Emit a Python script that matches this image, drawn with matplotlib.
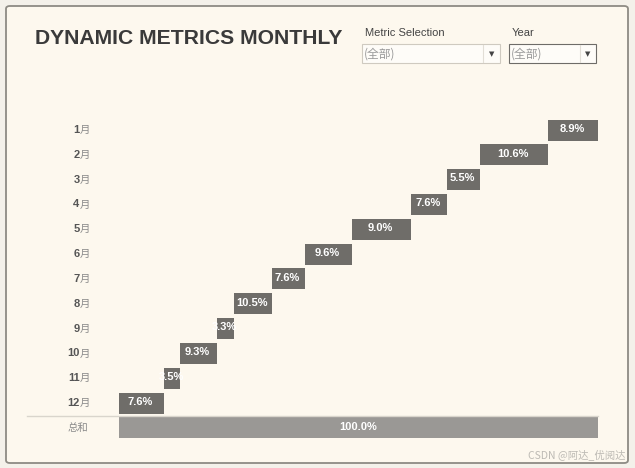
import matplotlib
matplotlib.use("Agg")
import matplotlib.pyplot as plt
import matplotlib.transforms as mtransforms
from matplotlib.patches import FancyBboxPatch, Rectangle
from matplotlib.lines import Line2D

# ---- data ----
months = ["1月", "2月", "3月", "4月", "5月", "6月", "7月", "8月", "9月", "10月", "11月", "12月"]
bar_widths = [10.4, 14.2, 6.9, 7.5, 12.3, 9.8, 6.9, 7.9, 3.6, 7.7, 3.4, 9.3]
bar_labels = ["8.9%", "10.6%", "5.5%", "7.6%", "9.0%", "9.6%", "7.6%", "10.5%", "3.3%", "9.3%", "3.5%", "7.6%"]
total_label_cat = "总和"
total_label = "100.0%"
title = "DYNAMIC METRICS MONTHLY"
filter_names = ["Metric Selection", "Year"]
filter_values = ["(全部)", "(全部)"]
watermark = "CSDN @阿达_优阅达"

W, H = 635, 468
OUT_BG = "#f4f1ea"
IN_BG = "#fdf8ee"
BAR = "#6f6d69"
TOTAL = "#9a9895"
LAT = ["Liberation Sans", "Noto Sans CJK SC", "DejaVu Sans"]
CJK = ["Noto Sans CJK SC", "DejaVu Sans"]

fig = plt.figure(figsize=(W / 100, H / 100), dpi=100)
fig.patch.set_facecolor(OUT_BG)

def fx(x):
    return x / W

def fy(y):
    return 1 - y / H

# panel with border
panel = FancyBboxPatch((fx(6), fy(463)), fx(622), 457 / H,
                       boxstyle="round,pad=0,rounding_size=0.006",
                       transform=fig.transFigure, facecolor=IN_BG,
                       edgecolor="#8e8b84", linewidth=1.3, zorder=-5)
fig.patches.append(panel)

# title
fig.text(fx(35), fy(38), title, fontsize=15.2, fontweight="bold", color="#3a3a3a",
         family=LAT, ha="left", va="center")

# filters
boxes = [(362, 500, 483, "#cfcac0"), (509, 596, 580, "#6e6c68")]
for (x0, x1, xd, ec), name, val in zip(boxes, filter_names, filter_values):
    fig.text(fx(x0 + 3), fy(33), name, fontsize=8, color="#444444", family=LAT,
             ha="left", va="center")
    r = Rectangle((fx(x0), fy(63)), fx(x1 - x0), 19 / H, transform=fig.transFigure,
                  facecolor="#fefcf8", edgecolor=ec, linewidth=0.8)
    fig.patches.append(r)
    fig.lines.append(Line2D([fx(xd), fx(xd)], [fy(62), fy(45)], transform=fig.transFigure,
                            color="#e2ded6", linewidth=0.8))
    fig.text(fx(x0 + 2), fy(54), val, fontsize=8.5, color="#9a9a9a", family=CJK,
             ha="left", va="center")
    fig.text(fx((xd + x1) / 2), fy(54), "▼", fontsize=5, color="#444444",
             family=["DejaVu Sans"], ha="center", va="center")

# main axes
row_top, row_step = 130, 24.83
n_rows = len(months) + 1
top_px = row_top - row_step / 2
bot_px = row_top + row_step * (n_rows - 1) + row_step / 2
ax = fig.add_axes([fx(119), fy(bot_px), fx(598) - fx(119), (bot_px - top_px) / H])
ax.set_facecolor("none")
ax.set_zorder(2)
for s in ax.spines.values():
    s.set_visible(False)
ax.set_xticks([])
ax.set_yticks([])

total = sum(bar_widths)
ax.set_xlim(0, total)
ax.set_ylim(n_rows - 0.5, -0.5)

bh = 21 / row_step
# cumulative from 12月 upward
starts = [0.0] * len(months)
acc = 0.0
for i in range(len(months) - 1, -1, -1):
    starts[i] = acc
    acc += bar_widths[i]

for i, (w, s, lab) in enumerate(zip(bar_widths, starts, bar_labels)):
    rects = ax.barh(i, w, left=s, height=bh, color=BAR, edgecolor="none")
    rect = rects[0]
    narrow = w < 5
    if narrow:
        # label too wide for the bar: leading digit is clipped, as in the original
        t = ax.text(s - 0.95, i - 0.05, lab, ha="left", va="center", color="white",
                    fontsize=8, fontweight="bold", family=LAT)
    else:
        t = ax.text(s + w / 2 - 0.2, i - 0.05, lab, ha="center", va="center", color="white",
                    fontsize=8, fontweight="bold", family=LAT)
    t.set_clip_path(rect)

ti = len(months)
trect = ax.barh(ti, total, left=0, height=bh, color=TOTAL, edgecolor="none")[0]
ax.text(total / 2, ti - 0.05, total_label, ha="center", va="center", color="white",
        fontsize=8, fontweight="bold", family=LAT)

# row labels
bt = mtransforms.blended_transform_factory(fig.transFigure, ax.transData)
for i, m in enumerate(months):
    num = m[:-1]
    ax.text(fx(79.5), i, "月", transform=bt, ha="left", va="center", fontsize=7.5,
            color="#8a8a8a", family=CJK, fontweight="light", clip_on=False)
    ax.text(fx(79.5), i, num, transform=bt, ha="right", va="center", fontsize=8,
            color="#555555", family=LAT, fontweight="bold", clip_on=False)
ax.text(fx(78), ti, total_label_cat, transform=bt, ha="center", va="center",
        fontsize=7.5, color="#8a8a8a", family=CJK, clip_on=False)

# separator line between 12月 and total
ax.add_line(Line2D([fx(27), fx(598)], [ti - 0.5, ti - 0.5], transform=bt,
                   color="#d9d5cc", linewidth=1.0, clip_on=False))

# watermark
fig.text(fx(626), fy(455), watermark, fontsize=7.5, color="#bdbab4", family=CJK,
         ha="right", va="center")

fig.savefig("out.png", dpi=100, facecolor=fig.get_facecolor())
